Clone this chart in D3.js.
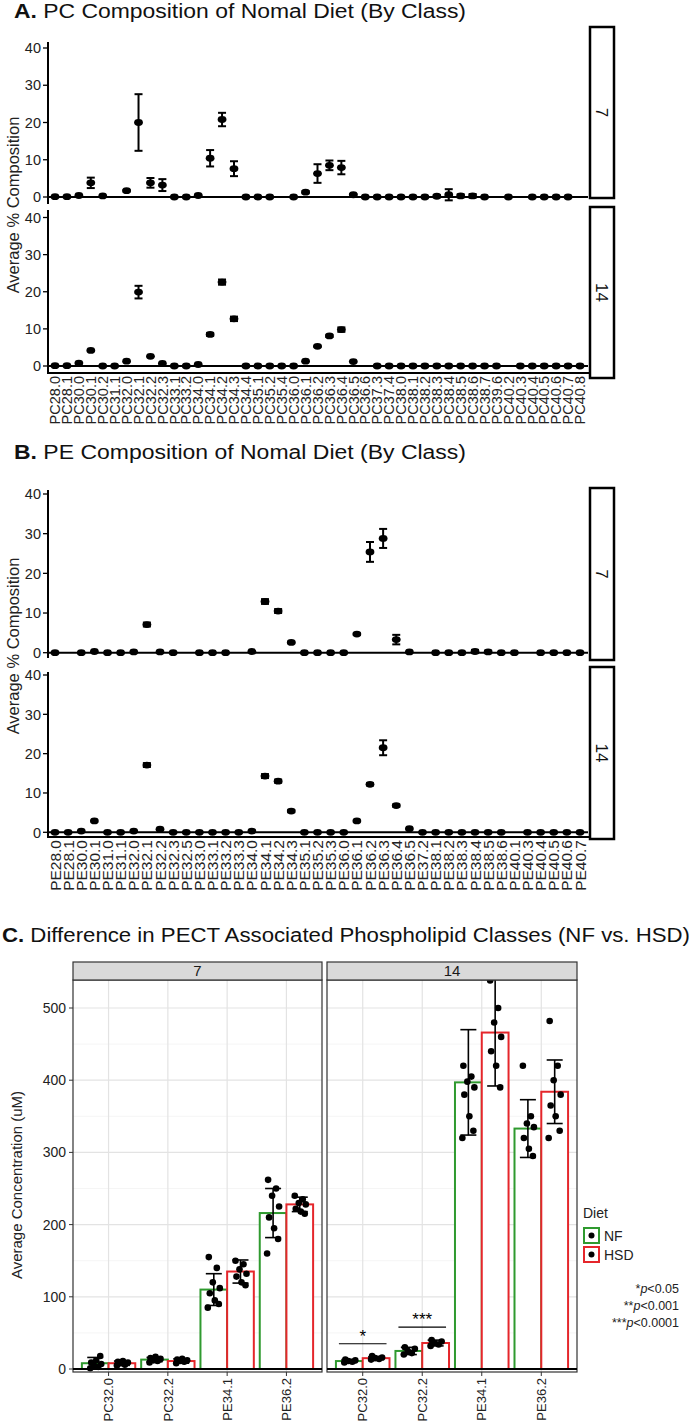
<!DOCTYPE html>
<html><head><meta charset="utf-8">
<script src="https://cdn.jsdelivr.net/npm/d3@7"></script>
<style>body{margin:0;background:#fff}svg{display:block}text{font-family:"Liberation Sans",Arial,sans-serif}</style>
</head><body>
<script>
// ---------------- DATA ----------------
const pcCats = ["PC28.0","PC28.1","PC30.0","PC30.1","PC30.2","PC31.1","PC32.0","PC32.1","PC32.2","PC32.3","PC33.1","PC33.2","PC34.0","PC34.1","PC34.2","PC34.3","PC34.4","PC35.1","PC35.2","PC35.4","PC36.0","PC36.1","PC36.2","PC36.3","PC36.4","PC36.5","PC36.6","PC37.3","PC37.4","PC38.0","PC38.1","PC38.2","PC38.3","PC38.4","PC38.5","PC38.6","PC38.7","PC39.6","PC40.2","PC40.3","PC40.4","PC40.5","PC40.6","PC40.7","PC40.8"];
const pcDay7Mean = [0.1,0.1,0.4,3.8,0.3,null,1.7,20.0,3.8,3.2,0,0,0.4,10.4,20.8,7.6,0,0,0,null,0,1.3,6.3,8.5,7.9,0.6,0,0,0,0,0,0,0.2,0.6,0.3,0.3,0,null,0,null,0,0,0,0,null];
const pcDay7Err  = [0,0,0.1,1.4,0.1,null,0.2,7.6,1.3,1.6,0,0,0.2,2.2,1.8,2.0,0,0,0,null,0,0.3,2.5,1.3,1.8,0.2,0,0,0,0,0,0,0.3,1.5,0.4,0.5,0,null,0,null,0,0,0,0,null];
const pcDay14Mean = [0.1,0.1,0.8,4.2,0,0,1.3,19.9,2.6,0.7,0,0,0.4,8.5,22.6,12.7,0,0,0,0,0,1.3,5.3,8.1,9.8,1.2,null,0,0,0,0,0,0,0,0,0,0,0,null,0,0,0,0,0,0];
const pcDay14Err  = [0,0,0.1,0.1,0,0,0.1,1.7,0.1,0.1,0,0,0.1,0.4,0.7,0.6,0,0,0,0,0,0.1,0.2,0.3,0.6,0.1,null,0,0,0,0,0,0,0,0,0,0,0,null,0,0,0,0,0,0];

const peCats = ["PE28.0","PE28.1","PE30.0","PE30.1","PE31.0","PE31.1","PE32.0","PE32.1","PE32.2","PE32.3","PE32.5","PE33.0","PE33.1","PE33.2","PE33.3","PE34.0","PE34.1","PE34.2","PE34.3","PE35.1","PE35.2","PE35.3","PE36.0","PE36.1","PE36.2","PE36.3","PE36.4","PE36.5","PE37.2","PE38.1","PE38.2","PE38.3","PE38.4","PE38.5","PE38.6","PE40.1","PE40.3","PE40.4","PE40.5","PE40.6","PE40.7"];
const peDay7Mean = [0,null,0,0.3,0,0,0.2,7.1,0.2,0,null,0,0,0,null,0.3,12.9,10.5,2.6,0,0,0,0,4.7,25.4,28.8,3.3,0.2,null,0,0,0,0.3,0.2,0,0,null,0,0,0,0];
const peDay7Err  = [0,null,0,0.1,0,0,0.1,0.5,0.1,0,null,0,0,0,null,0.1,0.6,0.5,0.2,0,0,0,0,0.2,2.5,2.4,1.2,0.1,null,0,0,0,0.4,0.3,0,0,null,0,0,0,0];
const peDay14Mean = [0,0,0.3,2.9,0,0,0.3,17.1,0.8,0,0,0,0,0,0,0.3,14.3,13.0,5.4,0,0,0,0,2.9,12.2,21.5,6.8,0.9,0,0,0,0,0,0,0,null,0,0,0,0,0];
const peDay14Err  = [0,0,0.1,0.1,0,0,0.1,0.5,0.1,0,0,0,0,0,0,0.1,0.5,0.4,0.3,0,0,0,0,0.1,0.3,1.9,0.3,0.1,0,0,0,0,0,0,0,null,0,0,0,0,0];
const compTicks = [0,10,20,30,40];

const cCats = ["PC32.0","PC32.2","PE34.1","PE36.2"];
const cDays = ["7","14"];
const cDiets = ["NF","HSD"];
const nf7Mean  = [8, 13, 110, 216];
const nf7Sd    = [8, 3, 22, 34];
const hsd7Mean = [8, 11, 135, 228];
const hsd7Sd   = [3, 3, 16, 10];
const nf14Mean = [11, 25, 397, 333];
const nf14Sd   = [2, 5, 73, 40];
const hsd14Mean= [15, 36, 466, 384];
const hsd14Sd  = [2, 4, 74, 44];
const nf7Pts  = [[1,3,4,7,9,12,18],[9,11,12,14,15,17],[155,140,120,112,105,95,90,85],[262,250,240,225,210,195,180,160]];
const hsd7Pts = [[5,6,8,9,10,11],[8,10,11,12,13,14],[150,145,138,132,128,120,116],[240,235,230,228,222,218,215]];
const nf14Pts = [[9,10,11,12,13],[20,22,25,28,30],[420,405,398,390,380,350,330,320],[420,350,340,335,320,305,295]];
const hsd14Pts= [[13,14,15,16,18],[32,34,36,38,40],[538,500,480,460,440,420,390],[482,420,400,380,365,350,330,320]];
const concTicks = [0,100,200,300,400,500];
const sigLabels = [{day:"14", cat:"PC32.0", text:"*"},{day:"14", cat:"PC32.2", text:"***"}];
const pNotes = ["*p<0.05","**p<0.001","***p<0.0001"];

// ---------------- DRAW ----------------
const W = 693, H = 1422;
const svg = d3.select("body").append("svg").attr("width", W).attr("height", H);

function title(x, y, bold, rest, len){
  const t = svg.append("text").attr("x", x).attr("y", y).attr("font-size", 20).attr("fill", "#111");
  t.append("tspan").attr("font-weight", "bold").text(bold);
  t.append("tspan").text(rest);
  if (len) t.attr("textLength", len).attr("lengthAdjust", "spacingAndGlyphs");
}

function dotPanel(cfg){
  const x = d3.scalePoint().domain(cfg.cats).range([55, 580]);
  cfg.facets.forEach(f => {
    const y = d3.scaleLinear().domain([0, 40]).range([f.y0, f.y40]);
    const g = svg.append("g");
    g.append("line").attr("x1", 48).attr("x2", 48).attr("y1", f.axisTop).attr("y2", f.axisBottom)
      .attr("stroke", "#000").attr("stroke-width", 2);
    compTicks.forEach(t => {
      g.append("line").attr("x1", 43).attr("x2", 48).attr("y1", y(t)).attr("y2", y(t)).attr("stroke", "#000").attr("stroke-width", 1.3);
      g.append("text").attr("x", 41).attr("y", y(t)).attr("dy", "0.36em").attr("text-anchor", "end")
        .attr("font-size", 14.5).attr("fill", "#222").text(t);
    });
    g.append("line").attr("x1", 48).attr("x2", 588).attr("y1", y(0)).attr("y2", y(0)).attr("stroke", "#000").attr("stroke-width", 2);
    g.append("rect").attr("x", 590).attr("y", f.stripTop).attr("width", 24).attr("height", f.stripBottom - f.stripTop)
      .attr("fill", "#fff").attr("stroke", "#000").attr("stroke-width", 2.5);
    g.append("text").attr("transform", `translate(602,${(f.stripTop + f.stripBottom)/2}) rotate(90)`)
      .attr("text-anchor", "middle").attr("dy", "0.36em").attr("font-size", 17).attr("fill", "#111").text(f.label);
    const data = cfg.cats.map((c, i) => ({c, m: f.mean[i], e: f.err[i]})).filter(d => d.m !== null);
    data.forEach(d => {
      if (d.e > 0.15) {
        const cx = x(d.c);
        g.append("line").attr("x1", cx).attr("x2", cx).attr("y1", y(d.m + d.e)).attr("y2", y(d.m - d.e)).attr("stroke", "#000").attr("stroke-width", 2);
        [d.m + d.e, d.m - d.e].forEach(v => g.append("line").attr("x1", cx - 4).attr("x2", cx + 4).attr("y1", y(v)).attr("y2", y(v)).attr("stroke", "#000").attr("stroke-width", 2));
      }
    });
    g.selectAll("ellipse.pt").data(data).join("ellipse").attr("class", "pt")
      .attr("cx", d => x(d.c)).attr("cy", d => y(d.m)).attr("rx", 4.4).attr("ry", 3.4).attr("fill", "#000");
  });
  svg.append("line").attr("x1", 47).attr("x2", 589).attr("y1", cfg.axisY).attr("y2", cfg.axisY).attr("stroke", "#000").attr("stroke-width", 2);
  cfg.cats.forEach(c => {
    svg.append("text").attr("transform", `translate(${x(c)},${cfg.axisY + 3}) rotate(-90)`)
      .attr("text-anchor", "end").attr("dy", "0.36em").attr("font-size", cfg.labSize).attr("fill", "#222").text(c);
  });
  svg.append("text").attr("transform", `translate(13,${cfg.yTitleY}) rotate(-90)`).attr("text-anchor", "middle")
    .attr("dy", "0.36em").attr("font-size", 16.5).attr("fill", "#222").text("Average % Composition");
}

title(14, 18, "A.", " PC Composition of Nomal Diet (By Class)", 452);
dotPanel({
  cats: pcCats, axisY: 373, labSize: 14.5, yTitleY: 205,
  facets: [
    {label: "7", mean: pcDay7Mean, err: pcDay7Err, y0: 197, y40: 48, axisTop: 42, axisBottom: 204, stripTop: 27, stripBottom: 198},
    {label: "14", mean: pcDay14Mean, err: pcDay14Err, y0: 366, y40: 217.5, axisTop: 210, axisBottom: 374, stripTop: 207, stripBottom: 378}
  ]
});
title(14, 459, "B.", " PE Composition of Nomal Diet (By Class)", 452);
dotPanel({
  cats: peCats, axisY: 837, labSize: 15.5, yTitleY: 646,
  facets: [
    {label: "7", mean: peDay7Mean, err: peDay7Err, y0: 652.7, y40: 494, axisTop: 490, axisBottom: 658, stripTop: 488, stripBottom: 660},
    {label: "14", mean: peDay14Mean, err: peDay14Err, y0: 832.3, y40: 675, axisTop: 672, axisBottom: 838, stripTop: 667, stripBottom: 839}
  ]
});

// Panel C
title(2, 942, "C.", " Difference in PECT Associated Phospholipid Classes (NF vs. HSD)", 688);
const stripTop = 962, cTop = 980, cBot = 1372;
const panelsX = {"7": [73, 322], "14": [327, 577]};
const yC = d3.scaleLinear().domain([0, 500]).range([1369, 1008]);
const green = "#2f9a2f", red = "#e5262b";
const groups = {
  "7": {NF: {m: nf7Mean, s: nf7Sd, p: nf7Pts}, HSD: {m: hsd7Mean, s: hsd7Sd, p: hsd7Pts}},
  "14": {NF: {m: nf14Mean, s: nf14Sd, p: nf14Pts}, HSD: {m: hsd14Mean, s: hsd14Sd, p: hsd14Pts}}
};
const jit = [-5, 3, -1, 6, -4, 1, 5, -6];
cDays.forEach(day => {
  const [x0, x1] = panelsX[day];
  const unit = (x1 - x0) / (cCats.length - 1 + 1.2);
  const xC = d3.scalePoint().domain(cCats).range([x0 + 0.6*unit, x1 - 0.6*unit]);
  const xD = d3.scaleBand().domain(cDiets).range([-0.45*unit, 0.45*unit]).padding(0);
  const g = svg.append("g");
  g.append("rect").attr("x", x0).attr("y", cTop).attr("width", x1 - x0).attr("height", cBot - cTop).attr("fill", "#fff");
  d3.range(0, 551, 50).forEach(v => {
    if (yC(v) < cTop) return;
    g.append("line").attr("x1", x0).attr("x2", x1).attr("y1", yC(v)).attr("y2", yC(v))
      .attr("stroke", v % 100 === 0 ? "#e3e3e3" : "#f1f1f1").attr("stroke-width", v % 100 === 0 ? 1.2 : 0.7);
  });
  cCats.forEach(c => g.append("line").attr("x1", xC(c)).attr("x2", xC(c)).attr("y1", cTop).attr("y2", cBot).attr("stroke", "#e3e3e3").attr("stroke-width", 1.2));
  cCats.forEach((c, i) => {
    cDiets.forEach(dt => {
      const gr = groups[day][dt];
      const bx = xC(c) + xD(dt);
      g.append("rect").attr("x", bx).attr("y", yC(gr.m[i])).attr("width", xD.bandwidth()).attr("height", yC(0) - yC(gr.m[i]))
        .attr("fill", "#fff").attr("stroke", dt === "NF" ? green : red).attr("stroke-width", 2);
    });
  });
  cCats.forEach((c, i) => {
    cDiets.forEach(dt => {
      const gr = groups[day][dt];
      const cx = xC(c) + xD(dt) + xD.bandwidth()/2;
      gr.p[i].forEach((v, k) => g.append("circle").attr("cx", cx + jit[k % jit.length]).attr("cy", yC(v)).attr("r", 3.3).attr("fill", "#000"));
      const lo = Math.max(0, gr.m[i] - gr.s[i]), hi = gr.m[i] + gr.s[i];
      g.append("line").attr("x1", cx).attr("x2", cx).attr("y1", yC(hi)).attr("y2", yC(lo)).attr("stroke", "#000").attr("stroke-width", 1.6);
      [lo, hi].forEach(v => g.append("line").attr("x1", cx - 8).attr("x2", cx + 8).attr("y1", yC(v)).attr("y2", yC(v)).attr("stroke", "#000").attr("stroke-width", 1.6));
    });
  });
  sigLabels.filter(s => s.day === day).forEach(s => {
    const i = cCats.indexOf(s.cat);
    const top = Math.max(groups[day].NF.m[i] + groups[day].NF.s[i], groups[day].HSD.m[i] + groups[day].HSD.s[i]);
    const yy = yC(top + 18);
    g.append("line").attr("x1", xC(s.cat) - 0.4*unit).attr("x2", xC(s.cat) + 0.4*unit).attr("y1", yy).attr("y2", yy).attr("stroke", "#000").attr("stroke-width", 1.2);
    g.append("text").attr("x", xC(s.cat)).attr("y", yy - 2).attr("text-anchor", "middle").attr("font-size", 17).attr("fill", "#000").text(s.text);
  });
  g.append("rect").attr("x", x0).attr("y", cTop).attr("width", x1 - x0).attr("height", cBot - cTop).attr("fill", "none").attr("stroke", "#333").attr("stroke-width", 1.2);
  g.append("line").attr("x1", x0).attr("x2", x1).attr("y1", yC(0)).attr("y2", yC(0)).attr("stroke", "#000").attr("stroke-width", 2.2);
  g.append("rect").attr("x", x0).attr("y", stripTop).attr("width", x1 - x0).attr("height", cTop - stripTop).attr("fill", "#d9d9d9").attr("stroke", "#333").attr("stroke-width", 1.2);
  g.append("text").attr("x", (x0 + x1)/2).attr("y", (stripTop + cTop)/2).attr("dy", "0.36em").attr("text-anchor", "middle").attr("font-size", 15).attr("fill", "#1a1a1a").text(day);
  cCats.forEach(c => {
    g.append("line").attr("x1", xC(c)).attr("x2", xC(c)).attr("y1", cBot).attr("y2", cBot + 4).attr("stroke", "#333");
    g.append("text").attr("transform", `translate(${xC(c)},${cBot + 6}) rotate(-90)`).attr("text-anchor", "end").attr("dy", "0.36em")
      .attr("font-size", 13).attr("fill", "#222").text(c);
  });
});
concTicks.forEach(t => {
  svg.append("line").attr("x1", 69).attr("x2", 73).attr("y1", yC(t)).attr("y2", yC(t)).attr("stroke", "#333");
  svg.append("text").attr("x", 66).attr("y", yC(t)).attr("dy", "0.36em").attr("text-anchor", "end").attr("font-size", 14).attr("fill", "#222").text(t);
});
svg.append("text").attr("transform", `translate(17,1185) rotate(-90)`).attr("text-anchor", "middle").attr("dy", "0.36em")
  .attr("font-size", 15).attr("fill", "#222").text("Average Concentration (uM)");
const lg = svg.append("g");
lg.append("text").attr("x", 583).attr("y", 1218).attr("font-size", 14).attr("fill", "#222").text("Diet");
cDiets.forEach((dt, i) => {
  const yy = 1228 + i*19;
  lg.append("rect").attr("x", 584).attr("y", yy).attr("width", 15).attr("height", 15).attr("fill", "#fff").attr("stroke", dt === "NF" ? green : red).attr("stroke-width", 2);
  lg.append("circle").attr("cx", 591.5).attr("cy", yy + 7.5).attr("r", 3).attr("fill", "#000");
  lg.append("text").attr("x", 604).attr("y", yy + 7.5).attr("dy", "0.36em").attr("font-size", 14).attr("fill", "#222").text(dt);
});
pNotes.forEach((n, i) => {
  const t = svg.append("text").attr("x", 679).attr("y", 1293 + i*17).attr("text-anchor", "end").attr("font-size", 12.5).attr("fill", "#222");
  const k = n.indexOf("p");
  t.append("tspan").text(n.slice(0, k));
  t.append("tspan").attr("font-style", "italic").text("p");
  t.append("tspan").text(n.slice(k + 1));
});
</script>
</body></html>
